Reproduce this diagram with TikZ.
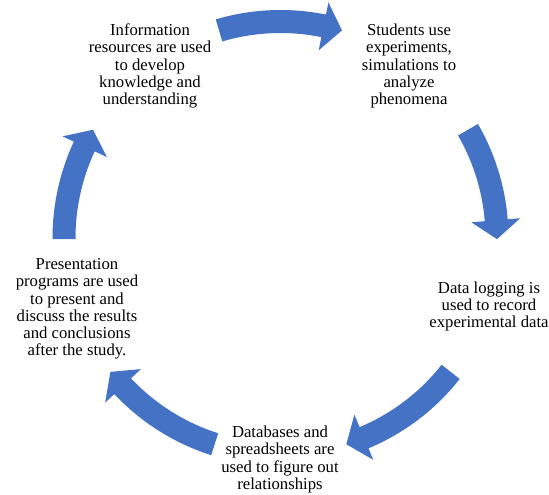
\documentclass[tikz,border=0pt]{standalone}
\usepackage{fontspec}
\setmainfont{Liberation Serif}
\definecolor{cycleblue}{HTML}{4472C4}
\tikzset{
  stagetext/.style={align=center, inner sep=0pt, font=\fontsize{16.7pt}{17.2pt}\selectfont, text=black},
  cyclearrow/.style={fill=cycleblue, draw=none}
}
% #1 tail angle, #2 tip angle
\newcommand{\blockarc}[2]{%
  \pgfmathsetmacro{\hb}{#2+5}%
  \fill[cyclearrow, shift={(c)}]
    (#1:228pt) arc[start angle=#1, end angle=\hb, radius=228pt]
    -- (\hb:240.5pt) -- (#2:216.5pt) -- (\hb:191.5pt) -- (\hb:205pt)
    arc[start angle=\hb, end angle=#1, radius=205pt] -- cycle;}
\begin{document}
\begin{tikzpicture}[x=1pt,y=1pt]
\useasboundingbox (0,0) rectangle (549,495);
\coordinate (c) at (280.5,257);
\node[stagetext] (info) at (150,429) {Information\\resources are used\\to develop\\knowledge and\\understanding};
\node[stagetext] (stud) at (409,429) {Students use\\experiments,\\simulations to\\analyze\\phenomena};
\node[stagetext] (dlog) at (489,188.5) {Data logging is\\used to record\\experimental data};
\node[stagetext] (dbase) at (280,35.5) {Databases and\\spreadsheets are\\used to figure out\\relationships};
\node[stagetext] (pres) at (77,186) {Presentation\\programs are used\\to present and\\discuss the results\\and conclusions\\after the study.};
\blockarc{106.5}{73.5}
\blockarc{30}{-0.3}
\blockarc{-38.2}{-72.3}
\blockarc{-107.7}{-141.8}
\blockarc{180.3}{150}
\end{tikzpicture}
\end{document}
